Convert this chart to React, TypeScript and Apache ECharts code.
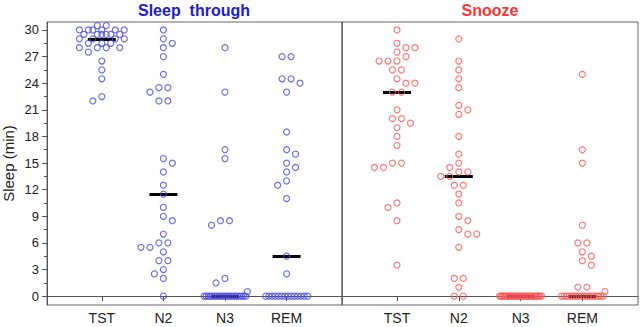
import React, { useEffect, useRef } from 'react';
import * as echarts from 'echarts';

const categories = ['TST', 'N2', 'N3', 'REM'];
const yTickValues = [0, 3, 6, 9, 12, 15, 18, 21, 24, 27, 30];
const yMinorTickValues = [1.5, 4.5, 7.5, 10.5, 13.5, 16.5, 19.5, 22.5, 25.5, 28.5];

// Sleep through (blue panel)
const throughTST = [30.5, 30.5, 30, 30, 30, 30, 30, 30, 29.5, 29.5, 29.5, 29.5, 29.5, 29.5, 29, 29, 29, 29, 28.5, 28.5, 28.5, 28, 28, 28, 28, 27.5, 26.5, 25.5, 24.5, 22.5, 22];
const throughN2 = [30, 29, 28.5, 28, 27, 25, 23.5, 23.5, 23, 22, 22, 15.5, 15, 14, 12.5, 11.5, 10, 9, 8.5, 7, 6, 6, 5.5, 5.5, 5, 4, 4, 3, 2.5, 2, 0];
const throughN3 = [28, 23, 16.5, 15.5, 8.5, 8.5, 8, 2, 1.5, 0.5, 0, 0, 0, 0, 0, 0, 0, 0, 0, 0, 0, 0, 0, 0, 0, 0, 0, 0, 0, 0, 0];
const throughREM = [27, 27, 24.5, 24.5, 24, 23, 18.5, 16.5, 16, 15, 14.5, 14, 13, 12.5, 11, 4.5, 2.5, 0, 0, 0, 0, 0, 0, 0, 0, 0, 0, 0, 0, 0, 0];

// Snooze (red panel)
const snoozeTST = [30, 28.5, 28, 28, 27.5, 27, 26.5, 26.5, 26.5, 25.5, 25.5, 24.5, 24, 24, 23, 23, 21, 20, 20, 19.5, 19, 18, 17, 15, 15, 14.5, 14.5, 10.5, 10, 8.5, 3.5];
const snoozeN2 = [29, 26.5, 25.5, 24.5, 23.5, 21.5, 21, 20.5, 18, 16, 15, 14.5, 14, 14, 13.5, 13.5, 12.5, 12.5, 11.5, 10.5, 9, 8.5, 7.5, 7, 7, 5.5, 2, 2, 1, 0, 0];
const snoozeN3 = [0, 0, 0, 0, 0, 0, 0, 0, 0, 0, 0, 0, 0, 0, 0, 0, 0, 0, 0, 0, 0, 0, 0, 0, 0, 0, 0, 0, 0, 0, 0];
const snoozeREM = [25, 16.5, 15, 8, 6, 6, 5, 4.5, 4, 3.5, 1, 1, 0.5, 0, 0, 0, 0, 0, 0, 0, 0, 0, 0, 0, 0, 0, 0, 0, 0, 0, 0];

const throughGroups = [throughTST, throughN2, throughN3, throughREM];
const snoozeGroups = [snoozeTST, snoozeN2, snoozeN3, snoozeREM];

const X_MIN = 0.11;
const X_MAX = 4.9;
const Y_MIN = -1;
const Y_MAX = 30.9;
const GRID_TOP = 22;
const GRID_H = 283;
const GRID_W = 296;
const LEFT1 = 46;
const LEFT2 = 342;

const BLUE = '#4a4ae4';
const RED = '#ff5656';
const FONT = '"Liberation Sans", Arial, sans-serif';

function median(a: number[]): number {
  const s = [...a].sort((x, y) => x - y);
  const n = s.length;
  return n % 2 ? s[(n - 1) / 2] : (s[n / 2 - 1] + s[n / 2]) / 2;
}

function swarmOffsets(values: number[]): number[] {
  const pxX = GRID_W / (X_MAX - X_MIN);
  const pxY = GRID_H / (Y_MAX - Y_MIN);
  const STEP = 4.5;
  const MIN_D = 8;
  const MAX_HALF = 23;
  const TIE_HALF = 21;
  const offsets = values.map(() => 0);
  const placed: { x: number; y: number }[] = [];
  const groups = new Map<number, number[]>();
  values.forEach((v, i) => {
    if (!groups.has(v)) groups.set(v, []);
    groups.get(v)!.push(i);
  });
  const keys = [...groups.keys()].sort((a, b) => b - a);
  for (const k of keys) {
    const idx = groups.get(k)!;
    if (idx.length >= 8) {
      idx.forEach((i, j) => {
        const o = -TIE_HALF + (2 * TIE_HALF * j) / (idx.length - 1);
        offsets[i] = o / pxX;
        placed.push({ x: o, y: k * pxY });
      });
    }
  }
  const ok = (x: number, y: number) =>
    placed.every((p) => (p.x - x) ** 2 + (p.y - y) ** 2 >= MIN_D * MIN_D);
  let flip = 1;
  for (const k of keys) {
    const idx = groups.get(k)!;
    if (idx.length >= 8) continue;
    const shifts = [0];
    for (let s = 1; s * STEP <= MAX_HALF; s++) shifts.push(flip * s * STEP, -flip * s * STEP);
    flip = -flip;
    const y = k * pxY;
    const n = idx.length;
    let done = false;
    const base = idx.map((_, j) => (j - (n - 1) / 2) * 2 * STEP);
    for (const c of shifts) {
      const xs = base.map((b) => b + c);
      if (xs.some((x) => Math.abs(x) > MAX_HALF + 0.01)) continue;
      if (xs.every((x) => ok(x, y))) {
        xs.forEach((x, j) => {
          offsets[idx[j]] = x / pxX;
          placed.push({ x, y });
        });
        done = true;
        break;
      }
    }
    if (!done) {
      for (const i of idx) {
        let best = 0;
        let bestD = -1;
        for (const c of shifts) {
          let d = Infinity;
          for (const p of placed) d = Math.min(d, Math.hypot(p.x - c, p.y - y));
          if (d >= MIN_D) {
            best = c;
            break;
          }
          if (d > bestD) {
            bestD = d;
            best = c;
          }
        }
        offsets[i] = best / pxX;
        placed.push({ x: best, y });
      }
    }
  }
  return offsets;
}

function scatterData(groups: number[][]) {
  const out: number[][] = [];
  groups.forEach((vals, ci) => {
    const offs = swarmOffsets(vals);
    vals.forEach((v, i) => out.push([ci + 1 + offs[i], v]));
  });
  return out;
}

function medianData(groups: number[][]) {
  const half = 14 / (GRID_W / (X_MAX - X_MIN));
  return groups.map((vals, ci) => {
    const m = median(vals);
    return { coords: [[ci + 1 - half, m], [ci + 1 + half, m]] };
  });
}

function xAxisFor(gridIndex: number) {
  return {
    type: 'value',
    gridIndex,
    min: X_MIN,
    max: X_MAX,
    splitLine: { show: false },
    axisLine: { show: true, lineStyle: { color: '#555', width: 1 } },
    axisTick: { show: true, customValues: [1, 2, 3, 4], length: 5, lineStyle: { color: '#555' } },
    axisLabel: {
      customValues: [1, 2, 3, 4],
      formatter: (v: number) => categories[Math.round(v) - 1] ?? '',
      fontSize: 14,
      color: '#222',
      fontFamily: FONT,
      margin: 6,
    },
  };
}

export default function App() {
  const ref = useRef<HTMLDivElement>(null);
  useEffect(() => {
    if (!ref.current) return;
    const chart = echarts.init(ref.current, undefined, { renderer: 'svg' });
    const option: any = {
      animation: false,
      backgroundColor: '#fff',
      grid: [
        { left: LEFT1, top: GRID_TOP, width: GRID_W, height: GRID_H, show: true, borderColor: '#666', borderWidth: 1, containLabel: false },
        { left: LEFT2, top: GRID_TOP, width: GRID_W, height: GRID_H, show: true, borderColor: '#666', borderWidth: 1, containLabel: false },
      ],
      xAxis: [xAxisFor(0), xAxisFor(1)],
      yAxis: [
        {
          type: 'value',
          gridIndex: 0,
          position: 'left',
          min: Y_MIN,
          max: Y_MAX,
          splitLine: { show: false },
          axisLine: { show: true, lineStyle: { color: '#555' } },
          axisTick: { show: true, customValues: yTickValues, length: 5, lineStyle: { color: '#555' } },
          axisLabel: { customValues: yTickValues, fontSize: 13, color: '#222', fontFamily: FONT, margin: 8 },
          name: 'Sleep (min)',
          nameLocation: 'middle',
          nameRotate: 90,
          nameGap: 31,
          nameTextStyle: { fontSize: 15, color: '#222', fontFamily: FONT },
        },
        {
          type: 'value',
          gridIndex: 0,
          position: 'left',
          offset: 0,
          min: Y_MIN,
          max: Y_MAX,
          splitLine: { show: false },
          axisLine: { show: false },
          axisTick: { show: true, customValues: yMinorTickValues, length: 3, lineStyle: { color: '#555' } },
          axisLabel: { show: false },
        },
        {
          type: 'value',
          gridIndex: 1,
          min: Y_MIN,
          max: Y_MAX,
          splitLine: { show: false },
          axisLine: { show: true, lineStyle: { color: '#666' } },
          axisTick: { show: false },
          axisLabel: { show: false },
        },
      ],
      graphic: [
        { type: 'text', x: LEFT1 + GRID_W / 2, y: 10, style: { text: 'Sleep  through', fill: '#1c1ccc', font: `bold 16px ${FONT}`, align: 'center', verticalAlign: 'middle' } },
        { type: 'text', x: LEFT2 + GRID_W / 2, y: 10, style: { text: 'Snooze', fill: '#ff3333', font: `bold 16px ${FONT}`, align: 'center', verticalAlign: 'middle' } },
      ],
      series: [
        {
          type: 'lines', coordinateSystem: 'cartesian2d', xAxisIndex: 0, yAxisIndex: 0, silent: true,
          data: medianData(throughGroups), lineStyle: { color: '#000', width: 3, opacity: 1 }, z: 1,
        },
        {
          type: 'lines', coordinateSystem: 'cartesian2d', xAxisIndex: 1, yAxisIndex: 2, silent: true,
          data: medianData(snoozeGroups), lineStyle: { color: '#000', width: 3, opacity: 1 }, z: 1,
        },
        {
          type: 'scatter', xAxisIndex: 0, yAxisIndex: 0, symbol: 'circle', symbolSize: 6,
          data: scatterData(throughGroups),
          itemStyle: { color: 'rgba(0,0,0,0)', borderColor: BLUE, borderWidth: 1.2 }, z: 2,
        },
        {
          type: 'scatter', xAxisIndex: 1, yAxisIndex: 2, symbol: 'circle', symbolSize: 6,
          data: scatterData(snoozeGroups),
          itemStyle: { color: 'rgba(0,0,0,0)', borderColor: RED, borderWidth: 1.2 }, z: 2,
        },
      ],
    };
    chart.setOption(option);
    return () => chart.dispose();
  }, []);
  return <div ref={ref} style={{ position: 'absolute', left: 0, top: 0, width: 640, height: 327 }} />;
}
